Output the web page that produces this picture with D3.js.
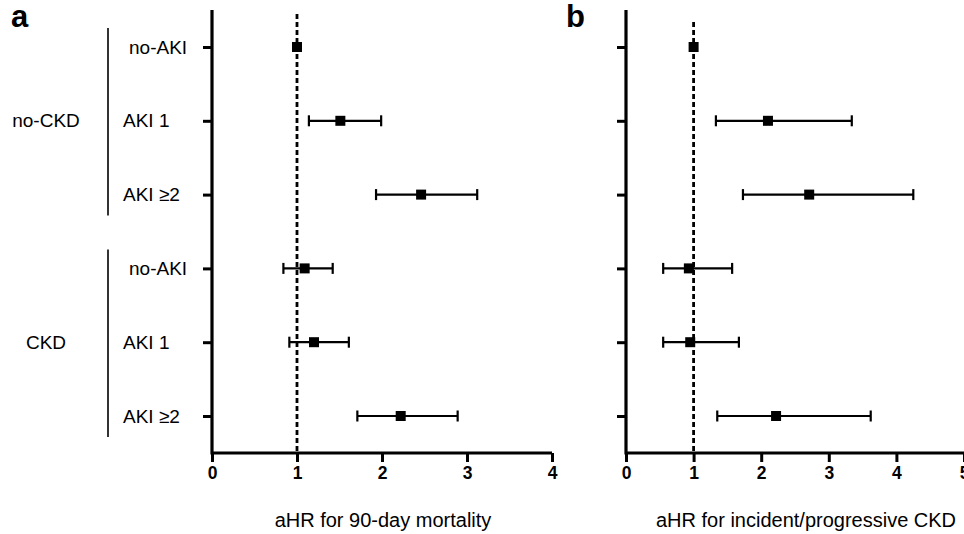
<!DOCTYPE html>
<html>
<head>
<meta charset="utf-8">
<script src="https://cdn.jsdelivr.net/npm/d3@7"></script>
<style>
  body { margin: 0; background: #fff; }
  text { font-family: "Liberation Sans", Arial, Helvetica, sans-serif; fill: #000; }
</style>
</head>
<body>
<div id="chart"></div>
<script>
// rows top to bottom
var groups = ["no-CKD", "CKD"];
var rowLabels = ["no-AKI", "AKI 1", "AKI \u22652", "no-AKI", "AKI 1", "AKI \u22652"];
var rowGroup = [0, 0, 0, 1, 1, 1];

// panel a: 90-day mortality
var mortHR = [1.00, 1.51, 2.46, 1.09, 1.20, 2.22];
var mortLo = [null, 1.14, 1.93, 0.84, 0.91, 1.71];
var mortHi = [null, 1.99, 3.12, 1.42, 1.61, 2.89];
var mortTicks = [0, 1, 2, 3, 4];

// panel b: incident/progressive CKD
var ckdHR = [1.00, 2.10, 2.71, 0.93, 0.95, 2.22];
var ckdLo = [null, 1.33, 1.73, 0.55, 0.55, 1.35];
var ckdHi = [null, 3.34, 4.25, 1.57, 1.67, 3.62];
var ckdTicks = [0, 1, 2, 3, 4, 5];

var W = 964, H = 534;
var axisY = 453, axisTop = 10;

var svg = d3.select("#chart").append("svg")
    .attr("width", W)
    .attr("height", H);

var y = d3.scalePoint()
    .domain(d3.range(rowLabels.length))
    .range([47, 416]);

// row labels
svg.selectAll(".rowlab")
    .data(rowLabels)
  .enter().append("text")
    .attr("class", "rowlab")
    .attr("x", function(d, i) { return d == "no-AKI" ? 129 : 123; })
    .attr("y", function(d, i) { return y(i); })
    .attr("dy", "0.35em")
    .style("font-size", "19px")
    .text(function(d) { return d; });

// group labels + brackets
groups.forEach(function(g, gi) {
  var idx = d3.range(rowLabels.length).filter(function(i) { return rowGroup[i] == gi; });
  var y0 = y(idx[0]), y1 = y(idx[idx.length - 1]);
  svg.append("line")
      .attr("x1", 108).attr("x2", 108)
      .attr("y1", y0 - 19).attr("y2", y1 + 21)
      .attr("stroke", "#000")
      .attr("stroke-width", 1.6);
  svg.append("text")
      .attr("x", 46)
      .attr("y", (y0 + y1) / 2)
      .attr("dy", "0.35em")
      .attr("text-anchor", "middle")
      .style("font-size", "19px")
      .text(g);
});

function panel(opt) {
  var x = d3.scaleLinear().domain(opt.domain).range(opt.range);
  var g = svg.append("g");

  // reference line at HR = 1
  g.append("line")
      .attr("x1", x(1)).attr("x2", x(1))
      .attr("y1", opt.dashTop).attr("y2", axisY)
      .attr("stroke", "#000")
      .attr("stroke-width", 2.8)
      .attr("stroke-dasharray", "5,3");

  // y axis with row ticks
  var ya = g.append("g")
      .attr("transform", "translate(" + x(0) + ",0)")
      .call(d3.axisLeft(y).tickSize(9).tickFormat(""));
  ya.select(".domain").remove();
  ya.selectAll(".tick line").attr("stroke-width", 3);
  g.append("line")
      .attr("x1", x(0)).attr("x2", x(0))
      .attr("y1", axisTop).attr("y2", axisY + 1.5)
      .attr("stroke", "#000")
      .attr("stroke-width", 3.2);

  // x axis
  var xa = g.append("g")
      .attr("transform", "translate(0," + axisY + ")")
      .call(d3.axisBottom(x).tickValues(opt.ticks).tickSize(9).tickPadding(5).tickFormat(d3.format("d")));
  xa.select(".domain").attr("stroke-width", 3.2).attr("d", "M" + x(0) + ",0H" + x(opt.domain[1]));
  xa.selectAll(".tick line").attr("stroke-width", 3);
  xa.selectAll(".tick text")
      .style("font-family", "'Liberation Sans', Arial, sans-serif")
      .style("font-size", "17.5px")
      .style("font-weight", "bold");

  // error bars
  var ci = d3.range(opt.hr.length).filter(function(i) { return opt.lo[i] != null; });
  g.selectAll(".ci")
      .data(ci)
    .enter().append("line")
      .attr("x1", function(i) { return x(opt.lo[i]); })
      .attr("x2", function(i) { return x(opt.hi[i]); })
      .attr("y1", function(i) { return y(i); })
      .attr("y2", function(i) { return y(i); })
      .attr("stroke", "#000")
      .attr("stroke-width", 2.2);
  ci.forEach(function(i) {
    [opt.lo[i], opt.hi[i]].forEach(function(v) {
      g.append("line")
          .attr("x1", x(v)).attr("x2", x(v))
          .attr("y1", y(i) - 5.5).attr("y2", y(i) + 5.5)
          .attr("stroke", "#000")
          .attr("stroke-width", 2.2);
    });
  });

  // point estimates
  g.selectAll(".pt")
      .data(opt.hr)
    .enter().append("rect")
      .attr("x", function(d) { return x(d) - 5; })
      .attr("y", function(d, i) { return y(i) - 5; })
      .attr("width", 10)
      .attr("height", 10)
      .attr("fill", "#000");

  // axis title
  g.append("text")
      .attr("x", opt.titleX)
      .attr("y", 527)
      .attr("text-anchor", "middle")
      .style("font-size", "20px")
      .text(opt.title);

  // panel letter
  svg.append("text")
      .attr("x", opt.letterX)
      .attr("y", 27)
      .style("font-size", "31px")
      .style("font-weight", "bold")
      .text(opt.letter);
}

panel({
  domain: [0, 4], range: [212, 552], ticks: mortTicks,
  hr: mortHR, lo: mortLo, hi: mortHi, dashTop: 14,
  title: "aHR for 90-day mortality", titleX: 383,
  letter: "a", letterX: 11
});

panel({
  domain: [0, 5], range: [626, 964], ticks: ckdTicks,
  hr: ckdHR, lo: ckdLo, hi: ckdHi, dashTop: 22,
  title: "aHR for incident/progressive CKD", titleX: 806,
  letter: "b", letterX: 566
});
</script>
</body>
</html>
